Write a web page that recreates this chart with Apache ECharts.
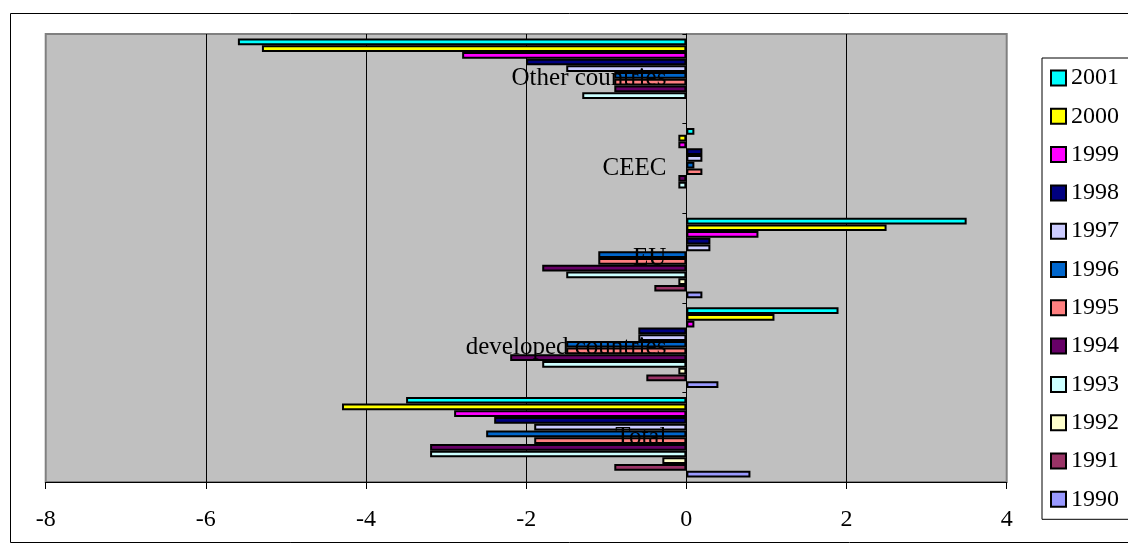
<!DOCTYPE html>
<html>
<head>
<meta charset="utf-8">
<script src="https://cdn.jsdelivr.net/npm/echarts@6/dist/echarts.min.js"></script>
<style>
html,body{margin:0;padding:0;background:#fff;}
#chart{width:1128px;height:555px;}
</style>
</head>
<body>
<div id="chart"></div>
<script>
// Categories (bottom to top)
var categories = ['Total', 'developed countries', 'EU', 'CEEC', 'Other countries'];
var xTicks = [-8, -6, -4, -2, 0, 2, 4];

// Series values, in category order
var y1990 = [0.8, 0.4, 0.2, null, null];
var y1991 = [-0.9, -0.5, -0.4, null, null];
var y1992 = [-0.3, -0.1, -0.1, null, null];
var y1993 = [-3.2, -1.8, -1.5, -0.1, -1.3];
var y1994 = [-3.2, -2.2, -1.8, -0.1, -0.9];
var y1995 = [-1.9, -1.5, -1.1, 0.2, -0.9];
var y1996 = [-2.5, -1.5, -1.1, 0.1, -0.9];
var y1997 = [-1.9, -0.6, 0.3, 0.2, -1.5];
var y1998 = [-2.4, -0.6, 0.3, 0.2, -2.0];
var y1999 = [-2.9, 0.1, 0.9, -0.1, -2.8];
var y2000 = [-4.3, 1.1, 2.5, -0.1, -5.3];
var y2001 = [-3.5, 1.9, 3.5, 0.1, -5.6];

// Top-of-band first (2001) down to 1990
var seriesNames = ['2001','2000','1999','1998','1997','1996','1995','1994','1993','1992','1991','1990'];
var seriesData = [y2001,y2000,y1999,y1998,y1997,y1996,y1995,y1994,y1993,y1992,y1991,y1990];
var colors = ['#00FFFF','#FFFF00','#FF00FF','#000080','#CCCCFF','#0066CC','#FF8080','#660066','#CCFFFF','#FFFFCC','#993366','#9999FF'];

var FONT = 'Liberation Serif';
var GRID_LEFT = 45.7, GRID_RIGHT = 121.3;
var X_MIN = xTicks[0], X_MAX = xTicks[xTicks.length - 1];
// place category labels next to the zero line (label gap 20px)
var plotW = 1128 - GRID_LEFT - GRID_RIGHT;
var zeroX = GRID_LEFT + (0 - X_MIN) / (X_MAX - X_MIN) * plotW;
var labelMargin = GRID_LEFT - (zeroX - 20);

var series = seriesNames.map(function (name, i) {
  return {
    name: name,
    type: 'bar',
    data: seriesData[i],
    barGap: '0%',
    barCategoryGap: '10%',
    itemStyle: { color: colors[i], borderColor: '#000', borderWidth: 2 },
    emphasis: { disabled: true },
    animation: false
  };
});

var chart = echarts.init(document.getElementById('chart'), null, { renderer: 'canvas' });
chart.setOption({
  animation: false,
  color: colors,
  textStyle: { fontFamily: FONT },
  graphic: [{
    type: 'rect',
    shape: { x: 10.5, y: 13.5, width: 1200, height: 529 },
    style: { fill: 'none', stroke: '#000', lineWidth: 1 },
    z: -10, silent: true
  }],
  legend: {
    orient: 'vertical',
    left: 1042,
    top: 58,
    data: seriesNames,
    itemWidth: 15,
    itemHeight: 15,
    itemGap: 14.3,
    icon: 'rect',
    padding: [8, 30, 8, 8],
    borderColor: '#000',
    borderWidth: 1,
    backgroundColor: '#fff',
    itemStyle: { borderColor: '#000', borderWidth: 2 },
    textStyle: { fontFamily: FONT, fontSize: 24, color: '#000', lineHeight: 24 },
    selectedMode: false
  },
  grid: {
    left: GRID_LEFT,
    right: GRID_RIGHT,
    top: 34,
    bottom: 73,
    show: true,
    backgroundColor: '#C0C0C0',
    borderColor: '#808080',
    borderWidth: 2,
    containLabel: false,
    outerBoundsMode: 'none'
  },
  xAxis: {
    type: 'value',
    min: X_MIN,
    max: X_MAX,
    interval: 2,
    axisLine: { show: true, lineStyle: { color: '#000', width: 1 } },
    axisTick: { show: true, length: 7, lineStyle: { color: '#000' } },
    axisLabel: { fontFamily: FONT, fontSize: 24, color: '#000', margin: 26 },
    splitLine: { show: true, showMinLine: false, showMaxLine: false, lineStyle: { color: '#000', width: 1 } }
  },
  yAxis: {
    type: 'category',
    data: categories,
    z: 10,
    axisLine: { show: true, onZero: true, lineStyle: { color: '#000', width: 1 } },
    axisTick: { show: true, length: 4, lineStyle: { color: '#000' } },
    axisLabel: { fontFamily: FONT, fontSize: 25, color: '#000', margin: labelMargin },
    splitLine: { show: false }
  },
  series: series
});
</script>
</body>
</html>
